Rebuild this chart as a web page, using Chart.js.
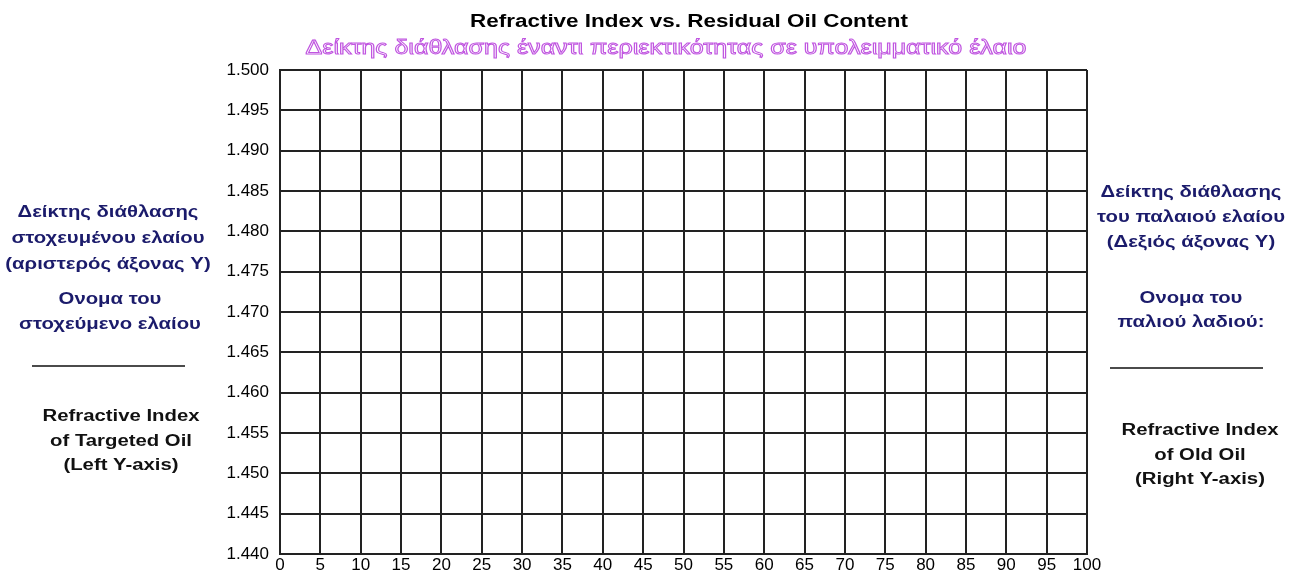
<!DOCTYPE html>
<html>
<head>
<meta charset="utf-8">
<script src="https://cdn.jsdelivr.net/npm/chart.js@4.4.1/dist/chart.umd.min.js"></script>
<style>
  html, body { margin: 0; padding: 0; background: #fff; }
</style>
</head>
<body>
<canvas id="myChart" width="1290" height="571"></canvas>
<script>
// blank worksheet: no measurements yet, only axes
const xRange = [0, 100];
const xStep = 5;
const yRange = [1.440, 1.500];
const yStep = 0.005;
const oilPoints = [];

const titleEn = 'Refractive Index vs. Residual Oil Content';
const titleGr = 'Δείκτης διάθλασης έναντι περιεκτικότητας σε υπολειμματικό έλαιο';

const leftGr = ['Δείκτης διάθλασης', 'στοχευμένου ελαίου', '(αριστερός άξονας Υ)'];
const leftName = ['Ονομα του', 'στοχεύμενο ελαίου'];
const leftEn = ['Refractive Index', 'of Targeted Oil', '(Left Y-axis)'];
const rightGr = ['Δείκτης διάθλασης', 'του παλαιού ελαίου', '(Δεξιός άξονας Υ)'];
const rightName = ['Ονομα του', 'παλιού λαδιού:'];
const rightEn = ['Refractive Index', 'of Old Oil', '(Right Y-axis)'];

const navy = '#1b1b6b';
const font = '"Liberation Sans", Arial, sans-serif';

// text in the original is stretched sideways, so draw it with a x-scale
function wide(c, t, x, y, sx, stroke) {
    c.save();
    c.translate(x, y);
    c.scale(sx, 1);
    c.fillText(t, 0, 0);
    if (stroke) c.strokeText(t, 0, 0);
    c.restore();
}

function lines(c, arr, x, y, gap, sx) {
    arr.forEach((t, i) => wide(c, t, x, y + i * gap, sx));
}

const sideText = {
    id: 'sideText',
    afterDraw(chart) {
        const c = chart.ctx;
        c.save();
        c.textAlign = 'center';
        c.textBaseline = 'middle';

        c.fillStyle = '#000';
        c.font = 'bold 18px ' + font;
        wide(c, titleEn, 689, 22, 438 / c.measureText(titleEn).width);

        c.font = '20px ' + font;
        c.lineWidth = 1;
        c.strokeStyle = '#c055e0';
        c.fillStyle = '#fff';
        wide(c, titleGr, 666, 48, 721 / c.measureText(titleGr).width, true);

        c.font = 'bold 16px ' + font;
        c.fillStyle = navy;
        lines(c, leftGr, 108, 213, 26, 1.27);
        lines(c, leftName, 110, 300, 25, 1.27);
        lines(c, rightGr, 1191, 193, 25, 1.27);
        lines(c, rightName, 1191, 299, 24, 1.27);

        c.fillStyle = '#111';
        lines(c, leftEn, 121, 417, 24.5, 1.27);
        lines(c, rightEn, 1200, 431, 24.5, 1.27);

        c.strokeStyle = '#111';
        c.lineWidth = 1.5;
        c.beginPath();
        c.moveTo(32, 366); c.lineTo(185, 366);
        c.moveTo(1110, 368); c.lineTo(1263, 368);
        c.stroke();
        c.restore();
    }
};

const ctx = document.getElementById('myChart');
let myChart = new Chart(ctx, {
    type: 'scatter',
    data: {
        datasets: [{
            label: 'Oil',
            data: oilPoints,
            backgroundColor: '#000'
        }]
    },
    options: {
        responsive: false,
        animation: false,
        layout: { padding: { left: 0, right: 203, top: 70, bottom: 0 } },
        plugins: {
            legend: { display: false },
            tooltip: { enabled: false }
        },
        scales: {
            x: {
                min: xRange[0],
                max: xRange[1],
                afterFit: (s) => { s.height = 17; },
                ticks: {
                    stepSize: xStep,
                    padding: 3,
                    color: '#000',
                    font: { family: font, size: 17, lineHeight: 1 },
                    maxRotation: 0,
                    autoSkip: false
                },
                grid: { color: '#222', lineWidth: 2, drawTicks: false },
                border: { color: '#222', width: 2 }
            },
            y: {
                min: yRange[0],
                max: yRange[1],
                afterFit: (s) => { s.width = 280; s.paddingBottom = 0; },
                ticks: {
                    stepSize: yStep,
                    padding: 11,
                    color: '#000',
                    font: { family: font, size: 17 },
                    callback: (v) => v.toFixed(3),
                    autoSkip: false
                },
                grid: { color: '#222', lineWidth: 2, drawTicks: false },
                border: { color: '#222', width: 2 }
            }
        }
    },
    plugins: [sideText]
});
</script>
</body>
</html>
